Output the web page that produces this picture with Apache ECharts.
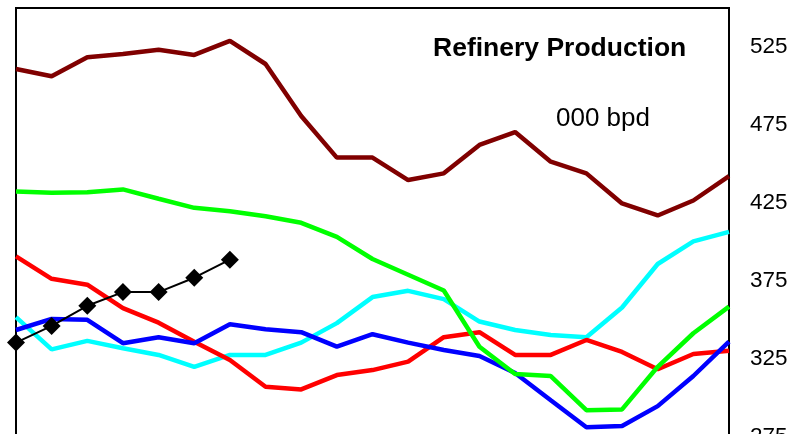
<!DOCTYPE html>
<html>
<head>
<meta charset="utf-8">
<script src="https://cdn.jsdelivr.net/npm/echarts@6/dist/echarts.min.js"></script>
<style>html,body{margin:0;padding:0;background:#fff;overflow:hidden;}#c{width:803px;height:476px;}</style>
</head>
<body>
<div id="c"></div>
<script>
var categories = ['1','2','3','4','5','6','7','8','9','10','11','12','13','14','15','16','17','18','19','20','21'];
var darkRed = [510.9,506.2,518.4,520.5,523.3,519.9,528.9,514.1,480.8,454.1,454.1,439.7,444.0,462.2,470.5,451.5,444.0,424.7,417.0,426.6,442.2];
var green   = [432.4,431.6,431.9,433.7,427.7,421.9,419.7,416.5,412.3,403.3,389.1,379.0,368.9,332.9,315.4,314.1,292.2,292.7,320.0,341.5,358.6];
var blue    = [343.6,350.7,350.1,335.1,339.0,335.1,347.3,344.1,342.2,332.9,340.9,335.5,330.8,326.9,316.0,298.6,281.3,282.1,294.8,314.1,336.1];
var cyan    = [351.8,331.2,336.6,331.9,327.6,320.0,327.6,327.6,335.5,348.0,364.7,368.7,363.4,349.0,343.6,340.4,339.0,358.0,385.9,400.4,406.5];
var red     = [390.8,376.4,372.6,357.6,348.3,336.1,324.4,307.2,305.5,314.7,317.9,323.3,339.0,342.2,327.6,327.6,337.2,329.5,318.4,328.2,330.3];
var black   = [335.5,346.2,359.1,367.9,367.9,377.1,388.7];
var yTickLabels = [275,325,375,425,475,525];
var titleText = 'Refinery Production';
var unitText = '000 bpd';

var chart = echarts.init(document.getElementById('c'), null, {renderer:'canvas'});
function lineSeries(name, data, color, w, z){
  return {name:name, type:'line', data:data, yAxisIndex:0, symbol:'none', z:z,
    lineStyle:{color:color, width:w}, itemStyle:{color:color}, animation:false};
}
chart.setOption({
  animation:false,
  backgroundColor:'#ffffff',
  title:[
    {text:titleText, left:428, top:30, textStyle:{fontFamily:'Liberation Sans, Arial', fontSize:26.5, fontWeight:'bold', color:'#000'}},
    {text:unitText, left:551, top:101, textStyle:{fontFamily:'Liberation Sans, Arial', fontSize:26, fontWeight:'normal', color:'#000'}}
  ],
  grid:{left:16, top:8, right:74, bottom:0, show:true, borderColor:'#000', borderWidth:2, backgroundColor:'transparent'},
  xAxis:{type:'category', data:categories, boundaryGap:false, show:false},
  yAxis:{type:'value', position:'right', min:250, max:550, interval:25,
    axisLine:{show:true, lineStyle:{color:'#000', width:2}},
    axisTick:{show:false}, splitLine:{show:false},
    axisLabel:{show:true, margin:21, color:'#000', fontFamily:'Liberation Sans, Arial', fontSize:22.5,
      formatter:function(v){ return yTickLabels.indexOf(v) >= 0 ? String(v) : ''; }}
  },
  series:[
    lineSeries('cyan', cyan, '#00FFFF', 4.5, 2),
    lineSeries('red', red, '#FF0000', 4.5, 3),
    lineSeries('blue', blue, '#0000FF', 4.5, 4),
    lineSeries('green', green, '#00FF00', 4.5, 5),
    lineSeries('darkred', darkRed, '#800000', 4.5, 6),
    {name:'black', type:'line', data:black, symbol:'diamond', symbolSize:18, z:7,
      lineStyle:{color:'#000', width:2}, itemStyle:{color:'#000'}, animation:false}
  ]
});
</script>
</body>
</html>
